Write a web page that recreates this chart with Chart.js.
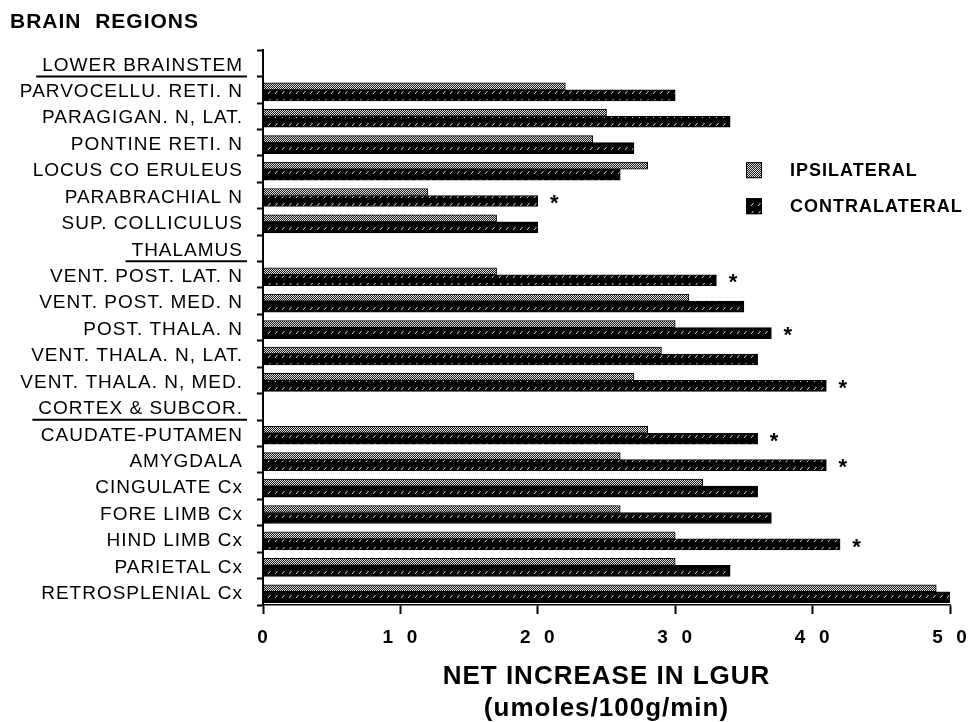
<!DOCTYPE html>
<html>
<head>
<meta charset="utf-8">
<script src="https://cdn.jsdelivr.net/npm/chart.js@4.4.1/dist/chart.umd.min.js"></script>
<style>
  html, body { margin: 0; padding: 0; background: #fff; }
  canvas { display: block; }
</style>
</head>
<body>
<canvas id="brainChart" width="968" height="722"></canvas>
<script>
// 脑区（包括三个分组标题，标题行没有柱子）
const regions = [
    'LOWER BRAINSTEM',
    'PARVOCELLU. RETI. N', 'PARAGIGAN. N, LAT.', 'PONTINE RETI. N', 'LOCUS CO ERULEUS',
    'PARABRACHIAL N', 'SUP. COLLICULUS',
    'THALAMUS',
    'VENT. POST. LAT. N', 'VENT. POST. MED. N', 'POST. THALA. N',
    'VENT. THALA. N, LAT.', 'VENT. THALA. N, MED.',
    'CORTEX & SUBCOR.',
    'CAUDATE-PUTAMEN', 'AMYGDALA', 'CINGULATE Cx', 'FORE LIMB Cx',
    'HIND LIMB Cx', 'PARIETAL Cx', 'RETROSPLENIAL Cx'
];
const groupHeaders = ['LOWER BRAINSTEM', 'THALAMUS', 'CORTEX & SUBCOR.'];

const ipsilateral = [null, 22, 25, 24, 28, 12, 17, null, 17, 31, 30, 29, 27, null, 28, 26, 32, 26, 30, 30, 49];
const contralateral = [null, 30, 34, 27, 26, 20, 20, null, 33, 35, 37, 36, 41, null, 36, 41, 36, 37, 42, 34, 50];
// 显著性标记 (*)
const significant = [false, false, false, false, false, true, false, false, true, false, true, false, true,
    false, true, true, false, false, true, false, false];

const xTickLabels = ['0', '1  0', '2  0', '3  0', '4  0', '5  0'];

// 花纹填充
function makeIpsiPattern() {
    const c = document.createElement('canvas');
    c.width = 2; c.height = 2;
    const g = c.getContext('2d');
    g.fillStyle = '#1a1a1a';
    g.fillRect(0, 0, 2, 2);
    g.fillStyle = '#e0e0e0';
    g.fillRect(0, 0, 1, 1);
    g.fillRect(1, 1, 1, 1);
    return g.createPattern(c, 'repeat');
}

function makeContraPattern() {
    const c = document.createElement('canvas');
    c.width = 7; c.height = 8;
    const g = c.getContext('2d');
    g.fillStyle = '#000';
    g.fillRect(0, 0, 7, 8);
    g.strokeStyle = '#d8d8d8';
    g.lineWidth = 1;
    g.beginPath();
    g.moveTo(2, 6);
    g.lineTo(4.5, 3);
    g.stroke();
    return g.createPattern(c, 'repeat');
}

const ipsiFill = makeIpsiPattern();
const contraFill = makeContraPattern();

// 原图的字比较松，统一加一点字距
const spacingPlugin = {
    id: 'spacing',
    beforeUpdate(chart) { chart.ctx.letterSpacing = '1px'; },
    beforeDraw(chart) { chart.ctx.letterSpacing = '1px'; }
};

// 标题下划线、星号和图例
const extrasPlugin = {
    id: 'extras',
    afterDatasetsDraw(chart) {
        const ctx = chart.ctx;
        const meta = chart.getDatasetMeta(1);
        ctx.save();
        ctx.fillStyle = '#000';
        ctx.font = 'bold 22px "Liberation Sans"';
        ctx.textAlign = 'center';
        ctx.textBaseline = 'middle';
        significant.forEach((s, i) => {
            if (!s) return;
            const bar = meta.data[i];
            ctx.fillText('*', bar.x + 17, bar.y + 3);
        });
        ctx.restore();
    },
    afterDraw(chart) {
        const ctx = chart.ctx;
        const yScale = chart.scales.y;
        const opts = yScale.options;
        const labelRight = yScale.right - opts.grid.tickLength - opts.ticks.padding;
        ctx.save();
        ctx.font = '19px "Liberation Sans"';
        ctx.strokeStyle = '#000';
        ctx.lineWidth = 2;
        regions.forEach((r, i) => {
            if (!groupHeaders.includes(r)) return;
            const w = ctx.measureText(r).width;
            const y = yScale.getPixelForTick(i) + 13;
            ctx.beginPath();
            ctx.moveTo(labelRight - w - 6, y);
            ctx.lineTo(labelRight + 4, y);
            ctx.stroke();
        });

        // 图例
        const area = chart.chartArea;
        const lx = area.left + 483;
        const items = [
            { label: chart.data.datasets[0].label, fill: ipsiFill, y: area.top + 120 },
            { label: chart.data.datasets[1].label, fill: contraFill, y: area.top + 156 }
        ];
        ctx.font = 'bold 18px "Liberation Sans"';
        ctx.textBaseline = 'middle';
        ctx.textAlign = 'left';
        items.forEach(it => {
            ctx.fillStyle = it.fill;
            ctx.fillRect(lx, it.y - 8, 16, 16);
            ctx.lineWidth = 1;
            ctx.strokeRect(lx + 0.5, it.y - 7.5, 15, 15);
            ctx.fillStyle = '#000';
            ctx.fillText(it.label, lx + 44, it.y + 1);
        });
        ctx.restore();
    }
};

function createBrainChart() {
    Chart.defaults.font.family = '"Liberation Sans", Arial, sans-serif';
    Chart.defaults.color = '#000';
    const ctx = document.getElementById('brainChart').getContext('2d');
    new Chart(ctx, {
        type: 'bar',
        data: {
            labels: regions,
            datasets: [{
                label: 'IPSILATERAL',
                data: ipsilateral,
                backgroundColor: ipsiFill,
                borderColor: '#000',
                borderWidth: 1,
                borderSkipped: false,
                barThickness: 7
            }, {
                label: 'CONTRALATERAL',
                data: contralateral,
                backgroundColor: contraFill,
                borderColor: '#000',
                borderWidth: 1,
                borderSkipped: false,
                barThickness: 11
            }]
        },
        options: {
            indexAxis: 'y',
            responsive: false,
            animation: false,
            layout: { padding: { left: 10, right: 18, top: 0, bottom: -3 } },
            plugins: {
                legend: { display: false },
                tooltip: { enabled: false },
                title: {
                    display: true,
                    text: 'BRAIN  REGIONS',
                    align: 'start',
                    color: '#000',
                    font: { size: 21, weight: 'bold' },
                    padding: { top: 10, bottom: 15 }
                }
            },
            scales: {
                x: {
                    min: 0,
                    max: 50,
                    ticks: {
                        stepSize: 10,
                        padding: 12,
                        font: { size: 19, weight: 'bold' },
                        callback: v => xTickLabels[v / 10]
                    },
                    grid: {
                        drawOnChartArea: false,
                        tickLength: 9,
                        tickWidth: 2,
                        tickColor: '#000'
                    },
                    border: { color: '#000', width: 1.5 },
                    title: {
                        display: true,
                        text: ['NET INCREASE IN LGUR', '(umoles/100g/min)'],
                        font: { size: 26, weight: 'bold', lineHeight: 1.23 },
                        padding: { top: 0, bottom: 0 }
                    },
                    afterFit: s => {
                        s.height = 120;
                        s.paddingRight = 0;
                    }
                },
                y: {
                    ticks: {
                        autoSkip: false,
                        padding: 14,
                        labelOffset: 2,
                        font: { size: 19 }
                    },
                    grid: {
                        offset: true,
                        drawOnChartArea: false,
                        tickLength: 6,
                        tickWidth: 2,
                        tickColor: '#000'
                    },
                    border: { color: '#000', width: 2 },
                    afterFit: s => { s.width = 253; }
                }
            }
        },
        plugins: [spacingPlugin, extrasPlugin]
    });
}

document.addEventListener('DOMContentLoaded', createBrainChart);
</script>
</body>
</html>
